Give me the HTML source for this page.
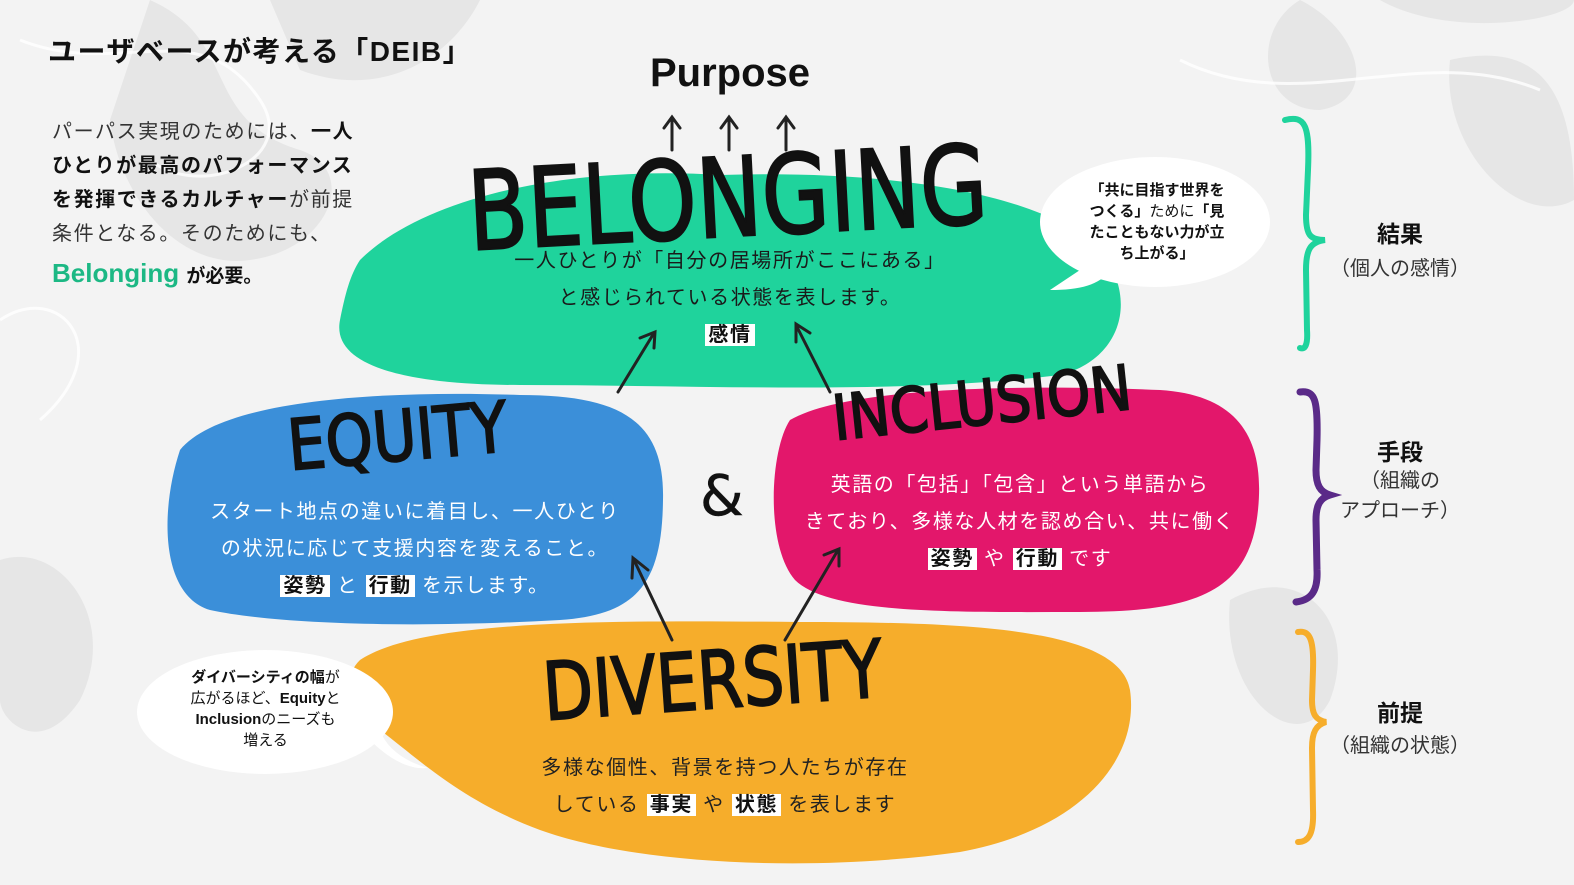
<!DOCTYPE html>
<html><head><meta charset="utf-8"><style>
html,body{margin:0;padding:0}
body{width:1574px;height:885px;overflow:hidden;background:#f3f3f3;font-family:"Liberation Sans","Noto Sans CJK JP",sans-serif;position:relative}
svg{position:absolute;left:0;top:0}
.t{position:absolute;color:#222;font-family:"Liberation Sans","Noto Sans CJK JP",sans-serif}
.hl{background:#fff;color:#111;font-weight:bold;padding:0 3px}
.b{font-size:20px;letter-spacing:1.6px}
</style></head><body>
<svg width="1574" height="885" viewBox="0 0 1574 885">
<rect width="1574" height="885" fill="#f3f3f3"/>
<g fill="#e6e6e6">
<path d="M150 0 C240 40 200 120 300 150 C360 170 330 250 250 260 C180 270 120 200 110 120 Z"/>
<path d="M270 0 L480 0 C450 60 380 100 300 70 Z"/>
<path d="M1380 0 C1450 40 1574 20 1574 0 Z"/>
<path d="M1450 60 C1540 40 1574 90 1574 200 C1520 230 1440 150 1450 60 Z"/>
<path d="M1230 600 C1300 560 1360 620 1330 700 C1300 760 1220 700 1230 600 Z"/>
<path d="M0 560 C60 540 120 620 80 700 C40 760 0 720 0 700 Z"/>
<path d="M1300 0 C1360 30 1380 100 1320 110 C1260 110 1250 30 1300 0Z"/>
</g>
<g fill="none" stroke="#fff" stroke-width="3" opacity=".8">
<path d="M20 40 C120 80 200 10 260 100 C300 160 200 200 150 160"/>
<path d="M0 320 C60 280 120 350 40 420"/>
<path d="M1180 60 C1300 120 1420 40 1540 90"/>
</g>
<path d="M360 260 C420 200 560 165 720 175 C880 170 1040 190 1100 250 C1140 300 1120 360 1060 375 C900 395 700 385 520 385 C420 385 330 370 340 320 C345 295 350 275 360 260Z" fill="#1fd39c"/>
<path d="M180 450 C220 400 380 390 520 395 C620 395 665 420 663 500 C662 580 640 615 560 620 C420 628 280 625 210 610 C160 595 160 510 180 450Z" fill="#3b8fd9"/>
<path d="M790 420 C850 385 1040 385 1160 390 C1240 395 1265 440 1258 510 C1250 590 1200 612 1080 612 C960 612 830 615 795 580 C765 545 770 450 790 420Z" fill="#e3176b"/>
<path d="M360 660 C420 620 600 620 800 622 C980 622 1120 630 1130 690 C1140 760 1080 830 960 852 C820 872 640 866 540 830 C460 800 420 760 380 730 C350 705 340 680 360 660Z" fill="#f6ad2b"/>
<path d="M1285 120 C1305 115 1310 125 1308 170 L1306 215 C1306 235 1310 240 1325 240 C1310 242 1306 250 1306 270 L1307 330 C1308 345 1305 350 1300 348" fill="none" stroke="#1fd39c" stroke-width="6" stroke-linecap="round"/>
<path d="M1300 392 C1315 390 1318 400 1317 440 L1316 470 C1316 485 1320 492 1330 495 C1320 498 1316 505 1316 520 L1317 570 C1318 590 1312 600 1296 602" fill="none" stroke="#5a2a88" stroke-width="7" stroke-linecap="round"/>
<path d="M1298 632 C1310 630 1314 640 1313 670 L1312 700 C1312 715 1316 720 1326 722 C1316 725 1312 732 1312 748 L1313 810 C1314 835 1308 842 1298 842" fill="none" stroke="#f6ad2b" stroke-width="6" stroke-linecap="round"/>
<ellipse cx="1155" cy="222" rx="115" ry="65" fill="#fff"/>
<path d="M1050 290 C1080 290 1100 285 1110 270 L1080 270 Z" fill="#fff"/>
<ellipse cx="265" cy="712" rx="128" ry="62" fill="#fff"/>
<path d="M370 740 C390 760 410 770 428 768 C400 760 385 745 380 730Z" fill="#fff"/>
<g stroke="#222" stroke-width="3" fill="none" stroke-linecap="round">
<path d="M672 150 L672 118 M664 128 L672 117 L680 128"/>
<path d="M729 150 L729 118 M721 128 L729 117 L737 128"/>
<path d="M786 150 L786 118 M778 128 L786 117 L794 128"/>
<path d="M618 392 L654 333 M640 338 L655 332 L654 348"/>
<path d="M830 392 L796 325 M796 342 L796 324 L810 333"/>
<path d="M672 640 L634 560 M632 578 L633 558 L648 570"/>
<path d="M785 640 L838 550 M824 555 L839 549 L839 566"/>
</g>
<g font-family="'DejaVu Sans','Liberation Sans',sans-serif" font-weight="normal" fill="#111" stroke="#111" stroke-width="2">
<text x="470" y="250" font-size="110" transform="rotate(-3 470 250)" textLength="520" lengthAdjust="spacingAndGlyphs">BELONGING</text>
<text x="290" y="470" font-size="70" transform="rotate(-5 290 470)" textLength="220" lengthAdjust="spacingAndGlyphs">EQUITY</text>
<text x="835" y="440" font-size="62" transform="rotate(-6 835 440)" textLength="300" lengthAdjust="spacingAndGlyphs">INCLUSION</text>
<text x="545" y="720" font-size="80" transform="rotate(-4 545 720)" textLength="340" lengthAdjust="spacingAndGlyphs">DIVERSITY</text>
<text x="700" y="515" font-size="56" stroke-width="0.5">&amp;</text>
</g>
<text x="650" y="86" font-size="40" font-weight="bold" fill="#111" font-family="'Liberation Sans',sans-serif">Purpose</text>
</svg>
<div class="t" style="left:48px;top:30px;font-size:28px;letter-spacing:1.5px;font-weight:bold;color:#111">ユーザベースが考える「DEIB」</div>
<div class="t" style="left:52px;top:115px;font-size:20px;letter-spacing:1.6px;line-height:34px;color:#333;width:340px">パーパス実現のためには、<b style="color:#111">一人<br>ひとりが最高のパフォーマンス<br>を発揮できるカルチャー</b>が前提<br>条件となる。そのためにも、</div>
<div class="t" style="left:52px;top:258px;font-size:26px;color:#1cb884;font-weight:bold">Belonging <span style="font-size:19px;color:#111">が必要。</span></div>
<div class="t b" style="left:470px;top:243px;width:520px;text-align:center;line-height:37px;color:#1a1a1a">一人ひとりが「自分の居場所がここにある」<br>と感じられている状態を表します。<br><span class="hl">感情</span></div>
<div class="t b" style="left:170px;top:494px;width:490px;text-align:center;line-height:37px;color:#fff">スタート地点の違いに着目し、一人ひとり<br>の状況に応じて支援内容を変えること。<br><span class="hl">姿勢</span> と <span class="hl">行動</span> を示します。</div>
<div class="t b" style="left:775px;top:467px;width:490px;text-align:center;line-height:37px;color:#fff">英語の「包括」「包含」という単語から<br>きており、多様な人材を認め合い、共に働く<br><span class="hl">姿勢</span> や <span class="hl">行動</span> です</div>
<div class="t b" style="left:480px;top:750px;width:490px;text-align:center;line-height:37px;color:#222">多様な個性、背景を持つ人たちが存在<br>している <span class="hl">事実</span> や <span class="hl">状態</span> を表します</div>
<div class="t" style="left:1072px;top:180px;width:170px;text-align:center;font-size:15px;line-height:21px;font-weight:bold;color:#111">「共に目指す世界を<br>つくる」<span style="font-weight:normal">ために</span>「見<br>たこともない力が立<br>ち上がる」</div>
<div class="t" style="left:168px;top:667px;width:195px;text-align:center;font-size:15px;line-height:21px;color:#111"><b>ダイバーシティの幅</b>が<br>広がるほど、<b>Equity</b>と<br><b>Inclusion</b>のニーズも<br>増える</div>
<div class="t" style="left:1330px;top:215px;width:140px;text-align:center;font-size:23px;font-weight:bold;color:#111">結果</div>
<div class="t" style="left:1320px;top:252px;width:160px;text-align:center;font-size:20px;color:#333">（個人の感情）</div>
<div class="t" style="left:1330px;top:433px;width:140px;text-align:center;font-size:23px;font-weight:bold;color:#111">手段</div>
<div class="t" style="left:1320px;top:466px;width:160px;text-align:center;font-size:20px;line-height:30px;color:#333">（組織の<br>アプローチ）</div>
<div class="t" style="left:1330px;top:694px;width:140px;text-align:center;font-size:23px;font-weight:bold;color:#111">前提</div>
<div class="t" style="left:1320px;top:729px;width:160px;text-align:center;font-size:20px;color:#333">（組織の状態）</div>
</body></html>
